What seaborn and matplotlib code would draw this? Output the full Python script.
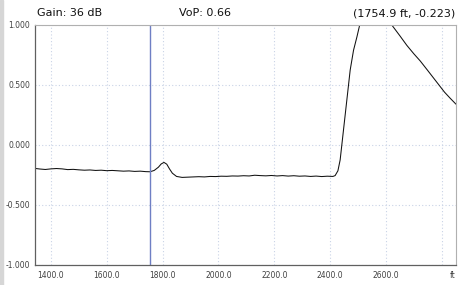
import numpy as np
import pandas as pd
import seaborn as sns
import matplotlib.pyplot as plt
from matplotlib.patches import Rectangle

# trace readings (distance in ft, amplitude)
distance = [
    1343, 1360, 1380, 1400, 1420, 1440, 1460, 1480, 1500, 1520, 1540, 1560,
    1580, 1600, 1620, 1640, 1660, 1680, 1700, 1720, 1740, 1755, 1770, 1785,
    1795, 1805, 1815, 1825, 1835, 1850, 1870, 1890, 1910, 1930, 1950, 1970,
    1990, 2010, 2030, 2050, 2070, 2090, 2110, 2130, 2150, 2170, 2190, 2210,
    2230, 2250, 2270, 2290, 2310, 2330, 2350, 2370, 2390, 2410, 2418, 2428,
    2436, 2448, 2460, 2472, 2484, 2496, 2506, 2530, 2560, 2590, 2621, 2650,
    2675, 2700, 2723, 2750, 2780, 2810, 2830, 2851,
]
amplitude = [
    -0.195, -0.200, -0.204, -0.199, -0.196, -0.199, -0.205, -0.203, -0.207,
    -0.210, -0.208, -0.212, -0.210, -0.214, -0.212, -0.215, -0.218, -0.216,
    -0.220, -0.218, -0.222, -0.223, -0.212, -0.185, -0.158, -0.145, -0.160,
    -0.200, -0.235, -0.262, -0.270, -0.268, -0.266, -0.264, -0.266, -0.262,
    -0.263, -0.260, -0.261, -0.258, -0.259, -0.256, -0.258, -0.252, -0.255,
    -0.257, -0.254, -0.258, -0.255, -0.259, -0.256, -0.260, -0.258, -0.262,
    -0.259, -0.263, -0.260, -0.262, -0.255, -0.215, -0.125, 0.125, 0.375,
    0.625, 0.790, 0.900, 1.000, 1.060, 1.090, 1.060, 1.000, 0.910, 0.830,
    0.760, 0.700, 0.620, 0.530, 0.440, 0.390, 0.340,
]

x_ticks = [1400, 1600, 1800, 2000, 2200, 2400, 2600, 2800]
x_labels = ["1400.0", "1600.0", "1800.0", "2000.0", "2200.0", "2400.0", "2600.0", ""]
y_ticks = [-1.0, -0.5, 0.0, 0.5, 1.0]
y_labels = ["-1.000", "-0.500", "0.000", "0.500", "1.000"]
cursor_ft = 1754.9

df = pd.DataFrame({"distance": distance, "amplitude": amplitude})

sns.set_style("white")
fig = plt.figure(figsize=(4.61, 2.85), dpi=100)
ax = fig.add_axes([35 / 461, 20 / 285, 421 / 461, 240 / 285])

sns.lineplot(data=df, x="distance", y="amplitude", ax=ax, color="#111111", linewidth=0.75)
ax.axvline(cursor_ft, color="#6f7fc4", linewidth=1.0)

ax.set_xlim(1343, 2851)
ax.set_ylim(-1.0, 1.0)
ax.set_xticks(x_ticks)
ax.set_xticklabels(x_labels)
ax.set_yticks(y_ticks)
ax.set_yticklabels(y_labels)
ax.set_xlabel("")
ax.set_ylabel("")
ax.grid(True, linestyle=(0, (1, 2)), color="#c9d3e6", linewidth=0.8)

for side in ["top", "right"]:
    ax.spines[side].set_color("#b0b0b0")
    ax.spines[side].set_linewidth(0.8)
for side in ["left", "bottom"]:
    ax.spines[side].set_color("#606060")
    ax.spines[side].set_linewidth(0.9)

ax.tick_params(axis="y", direction="out", length=3, width=0.8, color="#606060",
               labelsize=5.5, labelcolor="#404040", pad=0.5)
ax.tick_params(axis="x", direction="in", length=4, width=0.8, color="#606060",
               labelsize=5.5, labelcolor="#404040", pad=4)

fig.text(456 / 461, 5 / 285, "ft", ha="right", va="bottom", fontsize=5.5, color="#404040")

fig.text(37 / 461, 1 - 13 / 285, "Gain: 36 dB", ha="left", va="center", fontsize=8, color="#111111")
fig.text(205 / 461, 1 - 13 / 285, "VoP: 0.66", ha="center", va="center", fontsize=8, color="#111111")
fig.text(455 / 461, 1 - 13 / 285, "(1754.9 ft, -0.223)", ha="right", va="center", fontsize=8, color="#111111")

fig.patches.append(Rectangle((0, 0), 3 / 461, 1, transform=fig.transFigure,
                             color="#d6d6d6", zorder=0))

fig.savefig("out.png", dpi=100)
